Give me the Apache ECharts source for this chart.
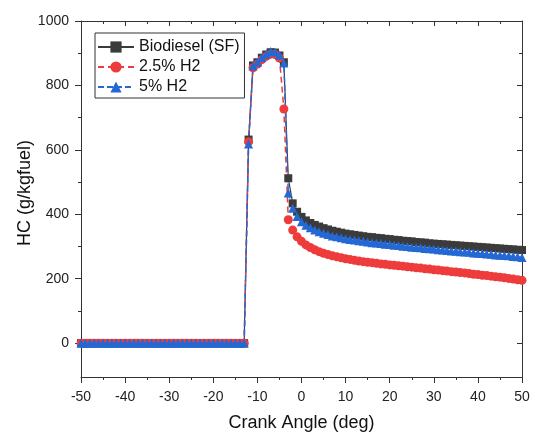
<!DOCTYPE html>
<html>
<head>
<meta charset="utf-8">
<script src="https://cdn.jsdelivr.net/npm/echarts@6.0.0/dist/echarts.min.js"></script>
<style>
  html, body { margin: 0; padding: 0; background: #fff; }
  #chart { width: 534px; height: 432px; }
</style>
</head>
<body>
<div id="chart"></div>
<script>
// crank angle (deg)
var angles = [
  -50, -49, -48, -47, -46, -45, -44, -43, -42, -41, -40, -39, -38, -37, -36, -35, -34, -33, -32, -31,
  -30, -29, -28, -27, -26, -25, -24, -23, -22, -21, -20, -19, -18, -17, -16, -15, -14, -13, -12, -11,
  -10, -9, -8, -7, -6, -5, -4, -3, -2, -1, 0, 1, 2, 3, 4, 5, 6, 7, 8, 9,
  10, 11, 12, 13, 14, 15, 16, 17, 18, 19, 20, 21, 22, 23, 24, 25, 26, 27, 28, 29,
  30, 31, 32, 33, 34, 35, 36, 37, 38, 39, 40, 41, 42, 43, 44, 45, 46, 47, 48, 49, 50
]

// HC (g/kgfuel)
var hcBiodiesel = [
  0, 0, 0, 0, 0, 0, 0, 0, 0, 0, 0, 0, 0, 0, 0, 0, 0, 0, 0, 0,
  0, 0, 0, 0, 0, 0, 0, 0, 0, 0, 0, 0, 0, 0, 0, 0, 0, 0, 632, 862,
  872, 886, 896, 903, 902, 893, 872, 512, 434, 408, 392, 381, 373, 367, 362, 357, 353, 349, 346, 343,
  340, 338, 336, 334, 332, 330, 329, 327, 326, 324, 323, 321, 320, 318, 317, 316, 314, 313, 312, 310,
  309, 308, 307, 306, 305, 304, 303, 302, 301, 300, 299, 298, 297, 296, 295, 294, 293, 292, 291, 290, 289
]
var hcH2_25 = [
  0, 0, 0, 0, 0, 0, 0, 0, 0, 0, 0, 0, 0, 0, 0, 0, 0, 0, 0, 0,
  0, 0, 0, 0, 0, 0, 0, 0, 0, 0, 0, 0, 0, 0, 0, 0, 0, 0, 625, 855,
  866, 880, 890, 897, 896, 885, 727, 383, 351, 330, 316, 305, 297, 290, 284, 279, 275, 271, 268, 265,
  262, 260, 257, 255, 253, 251, 250, 248, 246, 245, 243, 242, 240, 239, 237, 236, 234, 233, 231, 230,
  228, 227, 225, 224, 222, 221, 219, 218, 216, 214, 213, 211, 210, 208, 206, 205, 203, 201, 199, 197, 195
]
var hcH2_5 = [
  0, 0, 0, 0, 0, 0, 0, 0, 0, 0, 0, 0, 0, 0, 0, 0, 0, 0, 0, 0,
  0, 0, 0, 0, 0, 0, 0, 0, 0, 0, 0, 0, 0, 0, 0, 0, 0, 0, 618, 860,
  872, 887, 897, 905, 904, 894, 870, 466, 419, 393, 377, 366, 358, 351, 346, 341, 337, 333, 330, 327,
  324, 322, 320, 318, 316, 314, 312, 311, 309, 307, 306, 304, 303, 301, 300, 298, 297, 296, 294, 293,
  292, 290, 289, 288, 286, 285, 284, 283, 282, 280, 279, 278, 277, 276, 274, 273, 272, 271, 269, 268, 266
]

var seriesNames = ['Biodiesel (SF)', '2.5% H2', '5% H2']
var yMajor = [0, 200, 400, 600, 800, 1000]
var yMinor = [100, 300, 500, 700, 900]

function pairs (ys) {
  return angles.map(function (x, i) { return [x, ys[i]] })
}

var font = 'Liberation Sans, Arial, sans-serif'
var axisColor = '#333'

var chart = echarts.init(document.getElementById('chart'))

var option = {
  animation: false,
  backgroundColor: '#fff',
  textStyle: { fontFamily: font },
  grid: { left: 81, right: 12, top: 21, bottom: 55, outerBoundsMode: 'none', containLabel: false },
  legend: {
    orient: 'vertical',
    left: 95,
    top: 33,
    data: seriesNames,
    borderColor: '#333',
    borderWidth: 1,
    borderRadius: 0,
    padding: [6, 5, 3, 2],
    itemWidth: 36,
    itemHeight: 14,
    itemGap: 4,
    textStyle: { fontSize: 16, color: '#111', fontFamily: font }
  },
  xAxis: [{
    type: 'value',
    position: 'bottom',
    min: -50,
    max: 50,
    interval: 10,
    name: 'Crank Angle (deg)',
    nameLocation: 'middle',
    nameGap: 37,
    nameTextStyle: { fontSize: 18, color: '#111', fontFamily: font },
    axisLine: { show: true, onZero: false, lineStyle: { color: axisColor, width: 1 } },
    axisTick: { show: true, inside: false, length: 6, lineStyle: { color: axisColor } },
    minorTick: { show: true, splitNumber: 2, length: 3, lineStyle: { color: axisColor } },
    axisLabel: { fontSize: 14, color: '#222', margin: 13, fontFamily: font },
    splitLine: { show: false }
  }, {
    type: 'value',
    position: 'top',
    min: -50,
    max: 50,
    interval: 10,
    axisLine: { show: true, onZero: false, lineStyle: { color: axisColor, width: 1 } },
    axisTick: { show: true, inside: true, length: 5, lineStyle: { color: axisColor } },
    minorTick: { show: true, splitNumber: 2, length: 3, lineStyle: { color: axisColor } },
    axisLabel: { show: false },
    splitLine: { show: false }
  }],
  yAxis: [{
    type: 'value',
    position: 'left',
    min: -105,
    max: 1000,
    name: 'HC (g/kgfuel)',
    nameLocation: 'middle',
    nameGap: 47,
    nameMoveOverlap: false,
    nameTextStyle: { fontSize: 18, color: '#111', fontFamily: font, padding: [0, 0, 0, 12] },
    axisLine: { show: true, onZero: false, lineStyle: { color: axisColor, width: 1 } },
    axisTick: { show: true, inside: false, length: 6, customValues: yMajor, lineStyle: { color: axisColor } },
    axisLabel: {
      fontSize: 14,
      color: '#222',
      margin: 12,
      customValues: yMajor,
      fontFamily: font,
      formatter: function (v) { return String(v) }
    },
    splitLine: { show: false }
  }, {
    type: 'value',
    position: 'left',
    min: -105,
    max: 1000,
    axisLine: { show: false, onZero: false },
    axisTick: { show: true, inside: false, length: 3, customValues: yMinor, lineStyle: { color: axisColor } },
    axisLabel: { show: false },
    splitLine: { show: false }
  }, {
    type: 'value',
    position: 'right',
    min: -105,
    max: 1000,
    axisLine: { show: true, onZero: false, lineStyle: { color: axisColor, width: 1 } },
    axisTick: { show: true, inside: true, length: 5, customValues: yMajor, lineStyle: { color: axisColor } },
    axisLabel: { show: false },
    splitLine: { show: false }
  }, {
    type: 'value',
    position: 'right',
    min: -105,
    max: 1000,
    axisLine: { show: false, onZero: false },
    axisTick: { show: true, inside: true, length: 3, customValues: yMinor, lineStyle: { color: axisColor } },
    axisLabel: { show: false },
    splitLine: { show: false }
  }],
  series: [{
    name: seriesNames[0],
    type: 'line',
    data: pairs(hcBiodiesel),
    symbol: 'rect',
    symbolSize: 8,
    color: '#3b3b3b',
    lineStyle: { color: '#3b3b3b', width: 1.2, type: 'solid' },
    itemStyle: { color: '#3b3b3b' }
  }, {
    name: seriesNames[1],
    type: 'line',
    data: pairs(hcH2_25),
    symbol: 'circle',
    symbolSize: 9,
    color: '#ee3b3b',
    lineStyle: { color: '#ee3b3b', width: 1.5, type: [6, 4] },
    itemStyle: { color: '#ee3b3b' }
  }, {
    name: seriesNames[2],
    type: 'line',
    data: pairs(hcH2_5),
    symbol: 'triangle',
    symbolSize: 9,
    color: '#2468d4',
    lineStyle: { color: '#2468d4', width: 1.5, type: [6, 3] },
    itemStyle: { color: '#2468d4' }
  }]
}

chart.setOption(option, true)
</script>
</body>
</html>
